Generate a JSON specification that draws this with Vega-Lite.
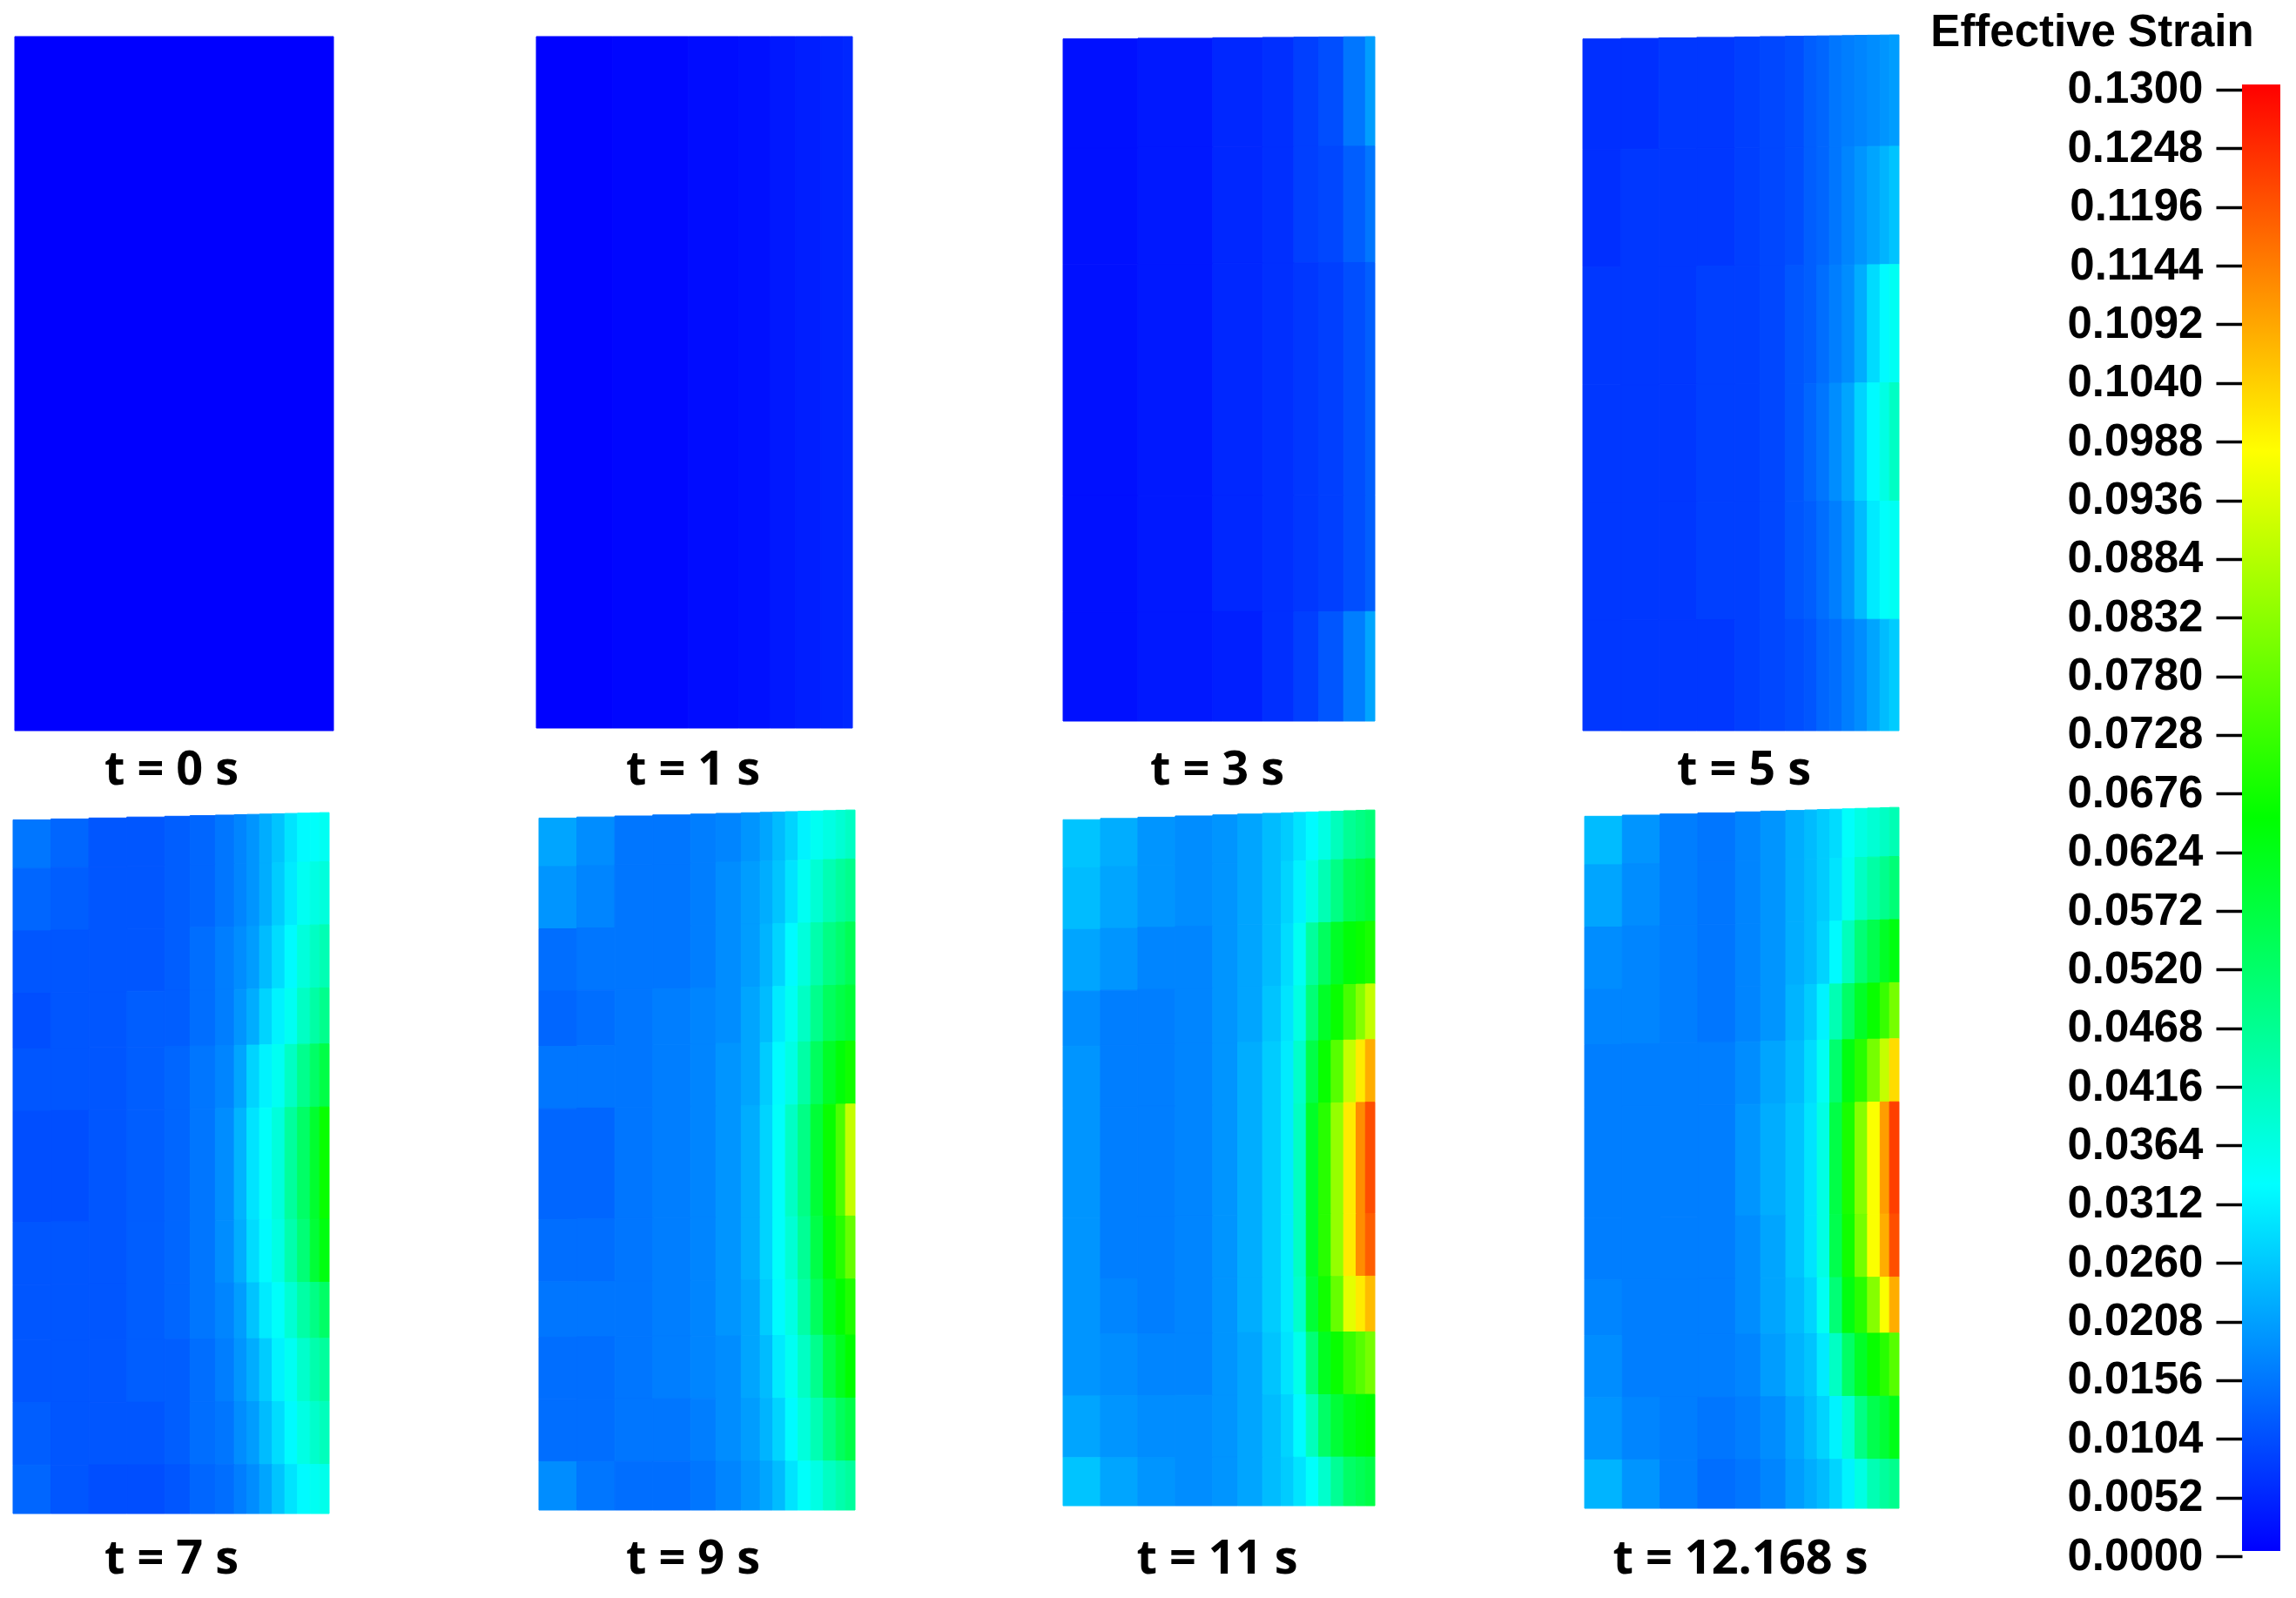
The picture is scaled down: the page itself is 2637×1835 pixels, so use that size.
{"$schema":"https://vega.github.io/schema/vega-lite/v6.json","background":"white","padding":0,"spacing":17,"config":{"view":{"stroke":null}},
"datasets":{
"panels":[{"p":0,"l":17,"r":383,"tl":42,"tr":42,"b":839,"lx":197,"ly":885,"lab":"t = 0 s"},{"p":1,"l":16,"r":379,"tl":42,"tr":42,"b":836,"lx":196,"ly":885,"lab":"t = 1 s"},{"p":3,"l":21,"r":379,"tl":45,"tr":42,"b":828,"lx":198,"ly":885,"lab":"t = 3 s"},{"p":5,"l":18,"r":381,"tl":45,"tr":40,"b":839,"lx":203,"ly":885,"lab":"t = 5 s"},{"p":7,"l":15,"r":378,"tl":52,"tr":43,"b":848,"lx":197,"ly":901,"lab":"t = 7 s"},{"p":9,"l":19,"r":382,"tl":50,"tr":40,"b":844,"lx":196,"ly":901,"lab":"t = 9 s"},{"p":11,"l":21,"r":379,"tl":52,"tr":40,"b":839,"lx":198,"ly":901,"lab":"t = 11 s"},{"p":12,"l":20,"r":381,"tl":48,"tr":37,"b":842,"lx":199,"ly":901,"lab":"t = 12.168 s"}],
"cols":[{"c":0,"xa":0,"xb":0.12},{"c":1,"xa":0.12,"xb":0.24},{"c":2,"xa":0.24,"xb":0.36},{"c":3,"xa":0.36,"xb":0.48},{"c":4,"xa":0.48,"xb":0.56},{"c":5,"xa":0.56,"xb":0.64},{"c":6,"xa":0.64,"xb":0.7},{"c":7,"xa":0.7,"xb":0.74},{"c":8,"xa":0.74,"xb":0.78},{"c":9,"xa":0.78,"xb":0.82},{"c":10,"xa":0.82,"xb":0.86},{"c":11,"xa":0.86,"xb":0.9},{"c":12,"xa":0.9,"xb":0.94},{"c":13,"xa":0.94,"xb":0.97},{"c":14,"xa":0.97,"xb":1},{"c":15,"xa":0,"xb":0.24},{"c":16,"xa":0.24,"xb":0.48},{"c":17,"xa":0.48,"xb":0.64},{"c":18,"xa":0.64,"xb":0.74},{"c":19,"xa":0.74,"xb":0.82},{"c":20,"xa":0.82,"xb":0.9},{"c":21,"xa":0.9,"xb":0.97},{"c":22,"xa":0,"xb":1}],
"bands":[{"r":0,"fa":0,"fb":0.07},{"r":1,"fa":0.07,"fb":0.16},{"r":2,"fa":0.16,"fb":0.25},{"r":3,"fa":0.25,"fb":0.33},{"r":4,"fa":0.33,"fb":0.42},{"r":5,"fa":0.42,"fb":0.58},{"r":6,"fa":0.58,"fb":0.67},{"r":7,"fa":0.67,"fb":0.75},{"r":8,"fa":0.75,"fb":0.84},{"r":9,"fa":0.84,"fb":0.93},{"r":10,"fa":0.93,"fb":1},{"r":11,"fa":0,"fb":0.16},{"r":12,"fa":0.16,"fb":0.33},{"r":13,"fa":0.33,"fb":0.5},{"r":14,"fa":0.5,"fb":0.67},{"r":15,"fa":0.67,"fb":0.84},{"r":16,"fa":0.84,"fb":1},{"r":17,"fa":0.33,"fb":0.67},{"r":18,"fa":0,"fb":1}],
"cells":[
{"p":0,"c":22,"r":18,"v":0},
{"p":1,"c":15,"r":18,"v":0.0003},{"p":1,"c":16,"r":18,"v":0.0008},{"p":1,"c":17,"r":18,"v":0.0015},{"p":1,"c":18,"r":18,"v":0.002},{"p":1,"c":19,"r":18,"v":0.003},{"p":1,"c":20,"r":18,"v":0.0038},{"p":1,"c":21,"r":18,"v":0.0045},{"p":1,"c":14,"r":18,"v":0.005},
{"p":3,"c":15,"r":11,"v":0.002},{"p":3,"c":16,"r":11,"v":0.003},{"p":3,"c":17,"r":11,"v":0.005},{"p":3,"c":18,"r":11,"v":0.006},{"p":3,"c":19,"r":11,"v":0.008},{"p":3,"c":20,"r":11,"v":0.01},{"p":3,"c":21,"r":11,"v":0.015},{"p":3,"c":14,"r":11,"v":0.02},
{"p":3,"c":15,"r":12,"v":0.002},{"p":3,"c":16,"r":12,"v":0.003},{"p":3,"c":17,"r":12,"v":0.005},{"p":3,"c":18,"r":12,"v":0.006},{"p":3,"c":19,"r":12,"v":0.008},{"p":3,"c":20,"r":12,"v":0.009},{"p":3,"c":21,"r":12,"v":0.012},{"p":3,"c":14,"r":12,"v":0.015},
{"p":3,"c":15,"r":17,"v":0.002},{"p":3,"c":16,"r":17,"v":0.003},{"p":3,"c":17,"r":17,"v":0.005},{"p":3,"c":18,"r":17,"v":0.006},{"p":3,"c":19,"r":17,"v":0.007},{"p":3,"c":20,"r":17,"v":0.008},{"p":3,"c":21,"r":17,"v":0.01},{"p":3,"c":14,"r":17,"v":0.012},
{"p":3,"c":15,"r":15,"v":0.002},{"p":3,"c":16,"r":15,"v":0.003},{"p":3,"c":17,"r":15,"v":0.005},{"p":3,"c":18,"r":15,"v":0.006},{"p":3,"c":19,"r":15,"v":0.007},{"p":3,"c":20,"r":15,"v":0.008},{"p":3,"c":21,"r":15,"v":0.01},{"p":3,"c":14,"r":15,"v":0.012},
{"p":3,"c":15,"r":16,"v":0.002},{"p":3,"c":16,"r":16,"v":0.003},{"p":3,"c":17,"r":16,"v":0.004},{"p":3,"c":18,"r":16,"v":0.006},{"p":3,"c":19,"r":16,"v":0.008},{"p":3,"c":20,"r":16,"v":0.011},{"p":3,"c":21,"r":16,"v":0.016},{"p":3,"c":14,"r":16,"v":0.021},
{"p":5,"c":0,"r":11,"v":0.006},{"p":5,"c":1,"r":11,"v":0.006},{"p":5,"c":2,"r":11,"v":0.007},{"p":5,"c":3,"r":11,"v":0.007},{"p":5,"c":4,"r":11,"v":0.008},{"p":5,"c":5,"r":11,"v":0.009},{"p":5,"c":6,"r":11,"v":0.01},{"p":5,"c":7,"r":11,"v":0.012},{"p":5,"c":8,"r":11,"v":0.013},{"p":5,"c":9,"r":11,"v":0.015},{"p":5,"c":10,"r":11,"v":0.016},{"p":5,"c":11,"r":11,"v":0.017},{"p":5,"c":12,"r":11,"v":0.018},{"p":5,"c":13,"r":11,"v":0.019},{"p":5,"c":14,"r":11,"v":0.02},
{"p":5,"c":0,"r":12,"v":0.006},{"p":5,"c":1,"r":12,"v":0.007},{"p":5,"c":2,"r":12,"v":0.007},{"p":5,"c":3,"r":12,"v":0.007},{"p":5,"c":4,"r":12,"v":0.008},{"p":5,"c":5,"r":12,"v":0.009},{"p":5,"c":6,"r":12,"v":0.01},{"p":5,"c":7,"r":12,"v":0.012},{"p":5,"c":8,"r":12,"v":0.013},{"p":5,"c":9,"r":12,"v":0.015},{"p":5,"c":10,"r":12,"v":0.017},{"p":5,"c":11,"r":12,"v":0.019},{"p":5,"c":12,"r":12,"v":0.021},{"p":5,"c":13,"r":12,"v":0.023},{"p":5,"c":14,"r":12,"v":0.025},
{"p":5,"c":0,"r":13,"v":0.007},{"p":5,"c":1,"r":13,"v":0.007},{"p":5,"c":2,"r":13,"v":0.007},{"p":5,"c":3,"r":13,"v":0.008},{"p":5,"c":4,"r":13,"v":0.008},{"p":5,"c":5,"r":13,"v":0.009},{"p":5,"c":6,"r":13,"v":0.011},{"p":5,"c":7,"r":13,"v":0.012},{"p":5,"c":8,"r":13,"v":0.014},{"p":5,"c":9,"r":13,"v":0.016},{"p":5,"c":10,"r":13,"v":0.018},{"p":5,"c":11,"r":13,"v":0.022},{"p":5,"c":12,"r":13,"v":0.028},{"p":5,"c":13,"r":13,"v":0.032},{"p":5,"c":14,"r":13,"v":0.034},
{"p":5,"c":0,"r":14,"v":0.007},{"p":5,"c":1,"r":14,"v":0.007},{"p":5,"c":2,"r":14,"v":0.007},{"p":5,"c":3,"r":14,"v":0.008},{"p":5,"c":4,"r":14,"v":0.008},{"p":5,"c":5,"r":14,"v":0.009},{"p":5,"c":6,"r":14,"v":0.011},{"p":5,"c":7,"r":14,"v":0.013},{"p":5,"c":8,"r":14,"v":0.015},{"p":5,"c":9,"r":14,"v":0.018},{"p":5,"c":10,"r":14,"v":0.021},{"p":5,"c":11,"r":14,"v":0.027},{"p":5,"c":12,"r":14,"v":0.032},{"p":5,"c":13,"r":14,"v":0.036},{"p":5,"c":14,"r":14,"v":0.04},
{"p":5,"c":0,"r":15,"v":0.007},{"p":5,"c":1,"r":15,"v":0.007},{"p":5,"c":2,"r":15,"v":0.007},{"p":5,"c":3,"r":15,"v":0.008},{"p":5,"c":4,"r":15,"v":0.008},{"p":5,"c":5,"r":15,"v":0.009},{"p":5,"c":6,"r":15,"v":0.011},{"p":5,"c":7,"r":15,"v":0.012},{"p":5,"c":8,"r":15,"v":0.014},{"p":5,"c":9,"r":15,"v":0.016},{"p":5,"c":10,"r":15,"v":0.019},{"p":5,"c":11,"r":15,"v":0.024},{"p":5,"c":12,"r":15,"v":0.03},{"p":5,"c":13,"r":15,"v":0.033},{"p":5,"c":14,"r":15,"v":0.034},
{"p":5,"c":0,"r":16,"v":0.007},{"p":5,"c":1,"r":16,"v":0.007},{"p":5,"c":2,"r":16,"v":0.007},{"p":5,"c":3,"r":16,"v":0.007},{"p":5,"c":4,"r":16,"v":0.008},{"p":5,"c":5,"r":16,"v":0.009},{"p":5,"c":6,"r":16,"v":0.01},{"p":5,"c":7,"r":16,"v":0.011},{"p":5,"c":8,"r":16,"v":0.013},{"p":5,"c":9,"r":16,"v":0.014},{"p":5,"c":10,"r":16,"v":0.016},{"p":5,"c":11,"r":16,"v":0.018},{"p":5,"c":12,"r":16,"v":0.021},{"p":5,"c":13,"r":16,"v":0.024},{"p":5,"c":14,"r":16,"v":0.026},
{"p":7,"c":0,"r":0,"v":0.015},{"p":7,"c":1,"r":0,"v":0.013},{"p":7,"c":2,"r":0,"v":0.011},{"p":7,"c":3,"r":0,"v":0.011},{"p":7,"c":4,"r":0,"v":0.012},{"p":7,"c":5,"r":0,"v":0.013},{"p":7,"c":6,"r":0,"v":0.015},{"p":7,"c":7,"r":0,"v":0.017},{"p":7,"c":8,"r":0,"v":0.019},{"p":7,"c":9,"r":0,"v":0.022},{"p":7,"c":10,"r":0,"v":0.025},{"p":7,"c":11,"r":0,"v":0.029},{"p":7,"c":12,"r":0,"v":0.032},{"p":7,"c":13,"r":0,"v":0.033},{"p":7,"c":14,"r":0,"v":0.034},
{"p":7,"c":0,"r":1,"v":0.013},{"p":7,"c":1,"r":1,"v":0.012},{"p":7,"c":2,"r":1,"v":0.011},{"p":7,"c":3,"r":1,"v":0.011},{"p":7,"c":4,"r":1,"v":0.012},{"p":7,"c":5,"r":1,"v":0.013},{"p":7,"c":6,"r":1,"v":0.015},{"p":7,"c":7,"r":1,"v":0.017},{"p":7,"c":8,"r":1,"v":0.019},{"p":7,"c":9,"r":1,"v":0.022},{"p":7,"c":10,"r":1,"v":0.026},{"p":7,"c":11,"r":1,"v":0.03},{"p":7,"c":12,"r":1,"v":0.034},{"p":7,"c":13,"r":1,"v":0.036},{"p":7,"c":14,"r":1,"v":0.037},
{"p":7,"c":0,"r":2,"v":0.011},{"p":7,"c":1,"r":2,"v":0.011},{"p":7,"c":2,"r":2,"v":0.011},{"p":7,"c":3,"r":2,"v":0.011},{"p":7,"c":4,"r":2,"v":0.012},{"p":7,"c":5,"r":2,"v":0.014},{"p":7,"c":6,"r":2,"v":0.016},{"p":7,"c":7,"r":2,"v":0.018},{"p":7,"c":8,"r":2,"v":0.02},{"p":7,"c":9,"r":2,"v":0.024},{"p":7,"c":10,"r":2,"v":0.028},{"p":7,"c":11,"r":2,"v":0.032},{"p":7,"c":12,"r":2,"v":0.037},{"p":7,"c":13,"r":2,"v":0.04},{"p":7,"c":14,"r":2,"v":0.042},
{"p":7,"c":0,"r":3,"v":0.01},{"p":7,"c":1,"r":3,"v":0.011},{"p":7,"c":2,"r":3,"v":0.011},{"p":7,"c":3,"r":3,"v":0.012},{"p":7,"c":4,"r":3,"v":0.012},{"p":7,"c":5,"r":3,"v":0.014},{"p":7,"c":6,"r":3,"v":0.016},{"p":7,"c":7,"r":3,"v":0.019},{"p":7,"c":8,"r":3,"v":0.022},{"p":7,"c":9,"r":3,"v":0.027},{"p":7,"c":10,"r":3,"v":0.031},{"p":7,"c":11,"r":3,"v":0.034},{"p":7,"c":12,"r":3,"v":0.04},{"p":7,"c":13,"r":3,"v":0.044},{"p":7,"c":14,"r":3,"v":0.047},
{"p":7,"c":0,"r":4,"v":0.011},{"p":7,"c":1,"r":4,"v":0.011},{"p":7,"c":2,"r":4,"v":0.011},{"p":7,"c":3,"r":4,"v":0.012},{"p":7,"c":4,"r":4,"v":0.013},{"p":7,"c":5,"r":4,"v":0.015},{"p":7,"c":6,"r":4,"v":0.017},{"p":7,"c":7,"r":4,"v":0.021},{"p":7,"c":8,"r":4,"v":0.027},{"p":7,"c":9,"r":4,"v":0.031},{"p":7,"c":10,"r":4,"v":0.034},{"p":7,"c":11,"r":4,"v":0.04},{"p":7,"c":12,"r":4,"v":0.047},{"p":7,"c":13,"r":4,"v":0.052},{"p":7,"c":14,"r":4,"v":0.056},
{"p":7,"c":0,"r":5,"v":0.01},{"p":7,"c":1,"r":5,"v":0.01},{"p":7,"c":2,"r":5,"v":0.011},{"p":7,"c":3,"r":5,"v":0.012},{"p":7,"c":4,"r":5,"v":0.013},{"p":7,"c":5,"r":5,"v":0.015},{"p":7,"c":6,"r":5,"v":0.018},{"p":7,"c":7,"r":5,"v":0.023},{"p":7,"c":8,"r":5,"v":0.029},{"p":7,"c":9,"r":5,"v":0.033},{"p":7,"c":10,"r":5,"v":0.037},{"p":7,"c":11,"r":5,"v":0.045},{"p":7,"c":12,"r":5,"v":0.052},{"p":7,"c":13,"r":5,"v":0.059},{"p":7,"c":14,"r":5,"v":0.066},
{"p":7,"c":0,"r":6,"v":0.011},{"p":7,"c":1,"r":6,"v":0.011},{"p":7,"c":2,"r":6,"v":0.011},{"p":7,"c":3,"r":6,"v":0.012},{"p":7,"c":4,"r":6,"v":0.013},{"p":7,"c":5,"r":6,"v":0.015},{"p":7,"c":6,"r":6,"v":0.018},{"p":7,"c":7,"r":6,"v":0.022},{"p":7,"c":8,"r":6,"v":0.028},{"p":7,"c":9,"r":6,"v":0.032},{"p":7,"c":10,"r":6,"v":0.036},{"p":7,"c":11,"r":6,"v":0.043},{"p":7,"c":12,"r":6,"v":0.05},{"p":7,"c":13,"r":6,"v":0.058},{"p":7,"c":14,"r":6,"v":0.063},
{"p":7,"c":0,"r":7,"v":0.011},{"p":7,"c":1,"r":7,"v":0.011},{"p":7,"c":2,"r":7,"v":0.011},{"p":7,"c":3,"r":7,"v":0.012},{"p":7,"c":4,"r":7,"v":0.013},{"p":7,"c":5,"r":7,"v":0.015},{"p":7,"c":6,"r":7,"v":0.017},{"p":7,"c":7,"r":7,"v":0.02},{"p":7,"c":8,"r":7,"v":0.025},{"p":7,"c":9,"r":7,"v":0.03},{"p":7,"c":10,"r":7,"v":0.033},{"p":7,"c":11,"r":7,"v":0.038},{"p":7,"c":12,"r":7,"v":0.044},{"p":7,"c":13,"r":7,"v":0.048},{"p":7,"c":14,"r":7,"v":0.052},
{"p":7,"c":0,"r":8,"v":0.011},{"p":7,"c":1,"r":8,"v":0.011},{"p":7,"c":2,"r":8,"v":0.011},{"p":7,"c":3,"r":8,"v":0.012},{"p":7,"c":4,"r":8,"v":0.012},{"p":7,"c":5,"r":8,"v":0.014},{"p":7,"c":6,"r":8,"v":0.016},{"p":7,"c":7,"r":8,"v":0.019},{"p":7,"c":8,"r":8,"v":0.022},{"p":7,"c":9,"r":8,"v":0.026},{"p":7,"c":10,"r":8,"v":0.031},{"p":7,"c":11,"r":8,"v":0.034},{"p":7,"c":12,"r":8,"v":0.039},{"p":7,"c":13,"r":8,"v":0.043},{"p":7,"c":14,"r":8,"v":0.045},
{"p":7,"c":0,"r":9,"v":0.012},{"p":7,"c":1,"r":9,"v":0.011},{"p":7,"c":2,"r":9,"v":0.011},{"p":7,"c":3,"r":9,"v":0.011},{"p":7,"c":4,"r":9,"v":0.012},{"p":7,"c":5,"r":9,"v":0.014},{"p":7,"c":6,"r":9,"v":0.015},{"p":7,"c":7,"r":9,"v":0.018},{"p":7,"c":8,"r":9,"v":0.02},{"p":7,"c":9,"r":9,"v":0.024},{"p":7,"c":10,"r":9,"v":0.028},{"p":7,"c":11,"r":9,"v":0.032},{"p":7,"c":12,"r":9,"v":0.036},{"p":7,"c":13,"r":9,"v":0.039},{"p":7,"c":14,"r":9,"v":0.041},
{"p":7,"c":0,"r":10,"v":0.013},{"p":7,"c":1,"r":10,"v":0.011},{"p":7,"c":2,"r":10,"v":0.01},{"p":7,"c":3,"r":10,"v":0.01},{"p":7,"c":4,"r":10,"v":0.011},{"p":7,"c":5,"r":10,"v":0.013},{"p":7,"c":6,"r":10,"v":0.014},{"p":7,"c":7,"r":10,"v":0.016},{"p":7,"c":8,"r":10,"v":0.018},{"p":7,"c":9,"r":10,"v":0.021},{"p":7,"c":10,"r":10,"v":0.025},{"p":7,"c":11,"r":10,"v":0.029},{"p":7,"c":12,"r":10,"v":0.032},{"p":7,"c":13,"r":10,"v":0.034},{"p":7,"c":14,"r":10,"v":0.035},
{"p":9,"c":0,"r":0,"v":0.021},{"p":9,"c":1,"r":0,"v":0.018},{"p":9,"c":2,"r":0,"v":0.015},{"p":9,"c":3,"r":0,"v":0.015},{"p":9,"c":4,"r":0,"v":0.016},{"p":9,"c":5,"r":0,"v":0.017},{"p":9,"c":6,"r":0,"v":0.019},{"p":9,"c":7,"r":0,"v":0.021},{"p":9,"c":8,"r":0,"v":0.024},{"p":9,"c":9,"r":0,"v":0.027},{"p":9,"c":10,"r":0,"v":0.031},{"p":9,"c":11,"r":0,"v":0.034},{"p":9,"c":12,"r":0,"v":0.036},{"p":9,"c":13,"r":0,"v":0.038},{"p":9,"c":14,"r":0,"v":0.04},
{"p":9,"c":0,"r":1,"v":0.019},{"p":9,"c":1,"r":1,"v":0.017},{"p":9,"c":2,"r":1,"v":0.015},{"p":9,"c":3,"r":1,"v":0.015},{"p":9,"c":4,"r":1,"v":0.016},{"p":9,"c":5,"r":1,"v":0.018},{"p":9,"c":6,"r":1,"v":0.02},{"p":9,"c":7,"r":1,"v":0.022},{"p":9,"c":8,"r":1,"v":0.025},{"p":9,"c":9,"r":1,"v":0.029},{"p":9,"c":10,"r":1,"v":0.034},{"p":9,"c":11,"r":1,"v":0.038},{"p":9,"c":12,"r":1,"v":0.042},{"p":9,"c":13,"r":1,"v":0.045},{"p":9,"c":14,"r":1,"v":0.047},
{"p":9,"c":0,"r":2,"v":0.014},{"p":9,"c":1,"r":2,"v":0.015},{"p":9,"c":2,"r":2,"v":0.015},{"p":9,"c":3,"r":2,"v":0.015},{"p":9,"c":4,"r":2,"v":0.016},{"p":9,"c":5,"r":2,"v":0.018},{"p":9,"c":6,"r":2,"v":0.02},{"p":9,"c":7,"r":2,"v":0.023},{"p":9,"c":8,"r":2,"v":0.027},{"p":9,"c":9,"r":2,"v":0.032},{"p":9,"c":10,"r":2,"v":0.037},{"p":9,"c":11,"r":2,"v":0.043},{"p":9,"c":12,"r":2,"v":0.048},{"p":9,"c":13,"r":2,"v":0.051},{"p":9,"c":14,"r":2,"v":0.054},
{"p":9,"c":0,"r":3,"v":0.013},{"p":9,"c":1,"r":3,"v":0.014},{"p":9,"c":2,"r":3,"v":0.015},{"p":9,"c":3,"r":3,"v":0.016},{"p":9,"c":4,"r":3,"v":0.017},{"p":9,"c":5,"r":3,"v":0.018},{"p":9,"c":6,"r":3,"v":0.021},{"p":9,"c":7,"r":3,"v":0.024},{"p":9,"c":8,"r":3,"v":0.03},{"p":9,"c":9,"r":3,"v":0.034},{"p":9,"c":10,"r":3,"v":0.04},{"p":9,"c":11,"r":3,"v":0.047},{"p":9,"c":12,"r":3,"v":0.053},{"p":9,"c":13,"r":3,"v":0.056},{"p":9,"c":14,"r":3,"v":0.058},
{"p":9,"c":0,"r":4,"v":0.015},{"p":9,"c":1,"r":4,"v":0.015},{"p":9,"c":2,"r":4,"v":0.015},{"p":9,"c":3,"r":4,"v":0.016},{"p":9,"c":4,"r":4,"v":0.017},{"p":9,"c":5,"r":4,"v":0.019},{"p":9,"c":6,"r":4,"v":0.021},{"p":9,"c":7,"r":4,"v":0.026},{"p":9,"c":8,"r":4,"v":0.032},{"p":9,"c":9,"r":4,"v":0.036},{"p":9,"c":10,"r":4,"v":0.044},{"p":9,"c":11,"r":4,"v":0.053},{"p":9,"c":12,"r":4,"v":0.06},{"p":9,"c":13,"r":4,"v":0.064},{"p":9,"c":14,"r":4,"v":0.067},
{"p":9,"c":0,"r":5,"v":0.013},{"p":9,"c":1,"r":5,"v":0.013},{"p":9,"c":2,"r":5,"v":0.015},{"p":9,"c":3,"r":5,"v":0.016},{"p":9,"c":4,"r":5,"v":0.017},{"p":9,"c":5,"r":5,"v":0.019},{"p":9,"c":6,"r":5,"v":0.022},{"p":9,"c":7,"r":5,"v":0.027},{"p":9,"c":8,"r":5,"v":0.033},{"p":9,"c":9,"r":5,"v":0.04},{"p":9,"c":10,"r":5,"v":0.048},{"p":9,"c":11,"r":5,"v":0.058},{"p":9,"c":12,"r":5,"v":0.066},{"p":9,"c":13,"r":5,"v":0.075},{"p":9,"c":14,"r":5,"v":0.09},
{"p":9,"c":0,"r":6,"v":0.014},{"p":9,"c":1,"r":6,"v":0.014},{"p":9,"c":2,"r":6,"v":0.015},{"p":9,"c":3,"r":6,"v":0.016},{"p":9,"c":4,"r":6,"v":0.017},{"p":9,"c":5,"r":6,"v":0.019},{"p":9,"c":6,"r":6,"v":0.022},{"p":9,"c":7,"r":6,"v":0.027},{"p":9,"c":8,"r":6,"v":0.033},{"p":9,"c":9,"r":6,"v":0.038},{"p":9,"c":10,"r":6,"v":0.046},{"p":9,"c":11,"r":6,"v":0.056},{"p":9,"c":12,"r":6,"v":0.064},{"p":9,"c":13,"r":6,"v":0.07},{"p":9,"c":14,"r":6,"v":0.078},
{"p":9,"c":0,"r":7,"v":0.015},{"p":9,"c":1,"r":7,"v":0.015},{"p":9,"c":2,"r":7,"v":0.015},{"p":9,"c":3,"r":7,"v":0.016},{"p":9,"c":4,"r":7,"v":0.017},{"p":9,"c":5,"r":7,"v":0.019},{"p":9,"c":6,"r":7,"v":0.021},{"p":9,"c":7,"r":7,"v":0.026},{"p":9,"c":8,"r":7,"v":0.032},{"p":9,"c":9,"r":7,"v":0.036},{"p":9,"c":10,"r":7,"v":0.044},{"p":9,"c":11,"r":7,"v":0.053},{"p":9,"c":12,"r":7,"v":0.061},{"p":9,"c":13,"r":7,"v":0.065},{"p":9,"c":14,"r":7,"v":0.069},
{"p":9,"c":0,"r":8,"v":0.014},{"p":9,"c":1,"r":8,"v":0.014},{"p":9,"c":2,"r":8,"v":0.015},{"p":9,"c":3,"r":8,"v":0.016},{"p":9,"c":4,"r":8,"v":0.017},{"p":9,"c":5,"r":8,"v":0.018},{"p":9,"c":6,"r":8,"v":0.021},{"p":9,"c":7,"r":8,"v":0.024},{"p":9,"c":8,"r":8,"v":0.03},{"p":9,"c":9,"r":8,"v":0.034},{"p":9,"c":10,"r":8,"v":0.04},{"p":9,"c":11,"r":8,"v":0.047},{"p":9,"c":12,"r":8,"v":0.056},{"p":9,"c":13,"r":8,"v":0.061},{"p":9,"c":14,"r":8,"v":0.065},
{"p":9,"c":0,"r":9,"v":0.014},{"p":9,"c":1,"r":9,"v":0.014},{"p":9,"c":2,"r":9,"v":0.015},{"p":9,"c":3,"r":9,"v":0.015},{"p":9,"c":4,"r":9,"v":0.016},{"p":9,"c":5,"r":9,"v":0.018},{"p":9,"c":6,"r":9,"v":0.02},{"p":9,"c":7,"r":9,"v":0.023},{"p":9,"c":8,"r":9,"v":0.027},{"p":9,"c":9,"r":9,"v":0.032},{"p":9,"c":10,"r":9,"v":0.037},{"p":9,"c":11,"r":9,"v":0.042},{"p":9,"c":12,"r":9,"v":0.048},{"p":9,"c":13,"r":9,"v":0.053},{"p":9,"c":14,"r":9,"v":0.056},
{"p":9,"c":0,"r":10,"v":0.018},{"p":9,"c":1,"r":10,"v":0.015},{"p":9,"c":2,"r":10,"v":0.014},{"p":9,"c":3,"r":10,"v":0.014},{"p":9,"c":4,"r":10,"v":0.015},{"p":9,"c":5,"r":10,"v":0.017},{"p":9,"c":6,"r":10,"v":0.019},{"p":9,"c":7,"r":10,"v":0.021},{"p":9,"c":8,"r":10,"v":0.024},{"p":9,"c":9,"r":10,"v":0.029},{"p":9,"c":10,"r":10,"v":0.033},{"p":9,"c":11,"r":10,"v":0.036},{"p":9,"c":12,"r":10,"v":0.04},{"p":9,"c":13,"r":10,"v":0.043},{"p":9,"c":14,"r":10,"v":0.045},
{"p":11,"c":0,"r":0,"v":0.025},{"p":11,"c":1,"r":0,"v":0.022},{"p":11,"c":2,"r":0,"v":0.019},{"p":11,"c":3,"r":0,"v":0.018},{"p":11,"c":4,"r":0,"v":0.019},{"p":11,"c":5,"r":0,"v":0.021},{"p":11,"c":6,"r":0,"v":0.024},{"p":11,"c":7,"r":0,"v":0.026},{"p":11,"c":8,"r":0,"v":0.029},{"p":11,"c":9,"r":0,"v":0.032},{"p":11,"c":10,"r":0,"v":0.036},{"p":11,"c":11,"r":0,"v":0.041},{"p":11,"c":12,"r":0,"v":0.046},{"p":11,"c":13,"r":0,"v":0.048},{"p":11,"c":14,"r":0,"v":0.05},
{"p":11,"c":0,"r":1,"v":0.024},{"p":11,"c":1,"r":1,"v":0.021},{"p":11,"c":2,"r":1,"v":0.019},{"p":11,"c":3,"r":1,"v":0.018},{"p":11,"c":4,"r":1,"v":0.019},{"p":11,"c":5,"r":1,"v":0.021},{"p":11,"c":6,"r":1,"v":0.024},{"p":11,"c":7,"r":1,"v":0.027},{"p":11,"c":8,"r":1,"v":0.031},{"p":11,"c":9,"r":1,"v":0.036},{"p":11,"c":10,"r":1,"v":0.042},{"p":11,"c":11,"r":1,"v":0.048},{"p":11,"c":12,"r":1,"v":0.054},{"p":11,"c":13,"r":1,"v":0.056},{"p":11,"c":14,"r":1,"v":0.058},
{"p":11,"c":0,"r":2,"v":0.021},{"p":11,"c":1,"r":2,"v":0.019},{"p":11,"c":2,"r":2,"v":0.017},{"p":11,"c":3,"r":2,"v":0.017},{"p":11,"c":4,"r":2,"v":0.019},{"p":11,"c":5,"r":2,"v":0.021},{"p":11,"c":6,"r":2,"v":0.024},{"p":11,"c":7,"r":2,"v":0.028},{"p":11,"c":8,"r":2,"v":0.034},{"p":11,"c":9,"r":2,"v":0.045},{"p":11,"c":10,"r":2,"v":0.053},{"p":11,"c":11,"r":2,"v":0.06},{"p":11,"c":12,"r":2,"v":0.064},{"p":11,"c":13,"r":2,"v":0.066},{"p":11,"c":14,"r":2,"v":0.068},
{"p":11,"c":0,"r":3,"v":0.018},{"p":11,"c":1,"r":3,"v":0.016},{"p":11,"c":2,"r":3,"v":0.016},{"p":11,"c":3,"r":3,"v":0.017},{"p":11,"c":4,"r":3,"v":0.019},{"p":11,"c":5,"r":3,"v":0.021},{"p":11,"c":6,"r":3,"v":0.025},{"p":11,"c":7,"r":3,"v":0.029},{"p":11,"c":8,"r":3,"v":0.036},{"p":11,"c":9,"r":3,"v":0.05},{"p":11,"c":10,"r":3,"v":0.06},{"p":11,"c":11,"r":3,"v":0.066},{"p":11,"c":12,"r":3,"v":0.074},{"p":11,"c":13,"r":3,"v":0.082},{"p":11,"c":14,"r":3,"v":0.09},
{"p":11,"c":0,"r":4,"v":0.019},{"p":11,"c":1,"r":4,"v":0.016},{"p":11,"c":2,"r":4,"v":0.016},{"p":11,"c":3,"r":4,"v":0.017},{"p":11,"c":4,"r":4,"v":0.019},{"p":11,"c":5,"r":4,"v":0.022},{"p":11,"c":6,"r":4,"v":0.026},{"p":11,"c":7,"r":4,"v":0.03},{"p":11,"c":8,"r":4,"v":0.039},{"p":11,"c":9,"r":4,"v":0.056},{"p":11,"c":10,"r":4,"v":0.066},{"p":11,"c":11,"r":4,"v":0.076},{"p":11,"c":12,"r":4,"v":0.09},{"p":11,"c":13,"r":4,"v":0.1},{"p":11,"c":14,"r":4,"v":0.108},
{"p":11,"c":0,"r":5,"v":0.019},{"p":11,"c":1,"r":5,"v":0.016},{"p":11,"c":2,"r":5,"v":0.016},{"p":11,"c":3,"r":5,"v":0.017},{"p":11,"c":4,"r":5,"v":0.019},{"p":11,"c":5,"r":5,"v":0.022},{"p":11,"c":6,"r":5,"v":0.026},{"p":11,"c":7,"r":5,"v":0.03},{"p":11,"c":8,"r":5,"v":0.04},{"p":11,"c":9,"r":5,"v":0.06},{"p":11,"c":10,"r":5,"v":0.07},{"p":11,"c":11,"r":5,"v":0.084},{"p":11,"c":12,"r":5,"v":0.1},{"p":11,"c":13,"r":5,"v":0.112},{"p":11,"c":14,"r":5,"v":0.12},
{"p":11,"c":0,"r":6,"v":0.019},{"p":11,"c":1,"r":6,"v":0.016},{"p":11,"c":2,"r":6,"v":0.016},{"p":11,"c":3,"r":6,"v":0.017},{"p":11,"c":4,"r":6,"v":0.019},{"p":11,"c":5,"r":6,"v":0.022},{"p":11,"c":6,"r":6,"v":0.026},{"p":11,"c":7,"r":6,"v":0.03},{"p":11,"c":8,"r":6,"v":0.04},{"p":11,"c":9,"r":6,"v":0.06},{"p":11,"c":10,"r":6,"v":0.07},{"p":11,"c":11,"r":6,"v":0.084},{"p":11,"c":12,"r":6,"v":0.1},{"p":11,"c":13,"r":6,"v":0.112},{"p":11,"c":14,"r":6,"v":0.118},
{"p":11,"c":0,"r":7,"v":0.019},{"p":11,"c":1,"r":7,"v":0.017},{"p":11,"c":2,"r":7,"v":0.016},{"p":11,"c":3,"r":7,"v":0.017},{"p":11,"c":4,"r":7,"v":0.019},{"p":11,"c":5,"r":7,"v":0.022},{"p":11,"c":6,"r":7,"v":0.026},{"p":11,"c":7,"r":7,"v":0.03},{"p":11,"c":8,"r":7,"v":0.039},{"p":11,"c":9,"r":7,"v":0.058},{"p":11,"c":10,"r":7,"v":0.067},{"p":11,"c":11,"r":7,"v":0.078},{"p":11,"c":12,"r":7,"v":0.094},{"p":11,"c":13,"r":7,"v":0.1},{"p":11,"c":14,"r":7,"v":0.106},
{"p":11,"c":0,"r":8,"v":0.019},{"p":11,"c":1,"r":8,"v":0.018},{"p":11,"c":2,"r":8,"v":0.017},{"p":11,"c":3,"r":8,"v":0.017},{"p":11,"c":4,"r":8,"v":0.019},{"p":11,"c":5,"r":8,"v":0.021},{"p":11,"c":6,"r":8,"v":0.025},{"p":11,"c":7,"r":8,"v":0.029},{"p":11,"c":8,"r":8,"v":0.035},{"p":11,"c":9,"r":8,"v":0.05},{"p":11,"c":10,"r":8,"v":0.061},{"p":11,"c":11,"r":8,"v":0.066},{"p":11,"c":12,"r":8,"v":0.072},{"p":11,"c":13,"r":8,"v":0.076},{"p":11,"c":14,"r":8,"v":0.08},
{"p":11,"c":0,"r":9,"v":0.021},{"p":11,"c":1,"r":9,"v":0.019},{"p":11,"c":2,"r":9,"v":0.018},{"p":11,"c":3,"r":9,"v":0.018},{"p":11,"c":4,"r":9,"v":0.019},{"p":11,"c":5,"r":9,"v":0.021},{"p":11,"c":6,"r":9,"v":0.024},{"p":11,"c":7,"r":9,"v":0.027},{"p":11,"c":8,"r":9,"v":0.032},{"p":11,"c":9,"r":9,"v":0.041},{"p":11,"c":10,"r":9,"v":0.052},{"p":11,"c":11,"r":9,"v":0.058},{"p":11,"c":12,"r":9,"v":0.062},{"p":11,"c":13,"r":9,"v":0.064},{"p":11,"c":14,"r":9,"v":0.065},
{"p":11,"c":0,"r":10,"v":0.025},{"p":11,"c":1,"r":10,"v":0.021},{"p":11,"c":2,"r":10,"v":0.019},{"p":11,"c":3,"r":10,"v":0.018},{"p":11,"c":4,"r":10,"v":0.019},{"p":11,"c":5,"r":10,"v":0.021},{"p":11,"c":6,"r":10,"v":0.024},{"p":11,"c":7,"r":10,"v":0.026},{"p":11,"c":8,"r":10,"v":0.029},{"p":11,"c":9,"r":10,"v":0.033},{"p":11,"c":10,"r":10,"v":0.039},{"p":11,"c":11,"r":10,"v":0.046},{"p":11,"c":12,"r":10,"v":0.052},{"p":11,"c":13,"r":10,"v":0.054},{"p":11,"c":14,"r":10,"v":0.056},
{"p":12,"c":0,"r":0,"v":0.024},{"p":12,"c":1,"r":0,"v":0.019},{"p":12,"c":2,"r":0,"v":0.016},{"p":12,"c":3,"r":0,"v":0.015},{"p":12,"c":4,"r":0,"v":0.017},{"p":12,"c":5,"r":0,"v":0.019},{"p":12,"c":6,"r":0,"v":0.022},{"p":12,"c":7,"r":0,"v":0.024},{"p":12,"c":8,"r":0,"v":0.026},{"p":12,"c":9,"r":0,"v":0.028},{"p":12,"c":10,"r":0,"v":0.033},{"p":12,"c":11,"r":0,"v":0.036},{"p":12,"c":12,"r":0,"v":0.038},{"p":12,"c":13,"r":0,"v":0.04},{"p":12,"c":14,"r":0,"v":0.042},
{"p":12,"c":0,"r":1,"v":0.021},{"p":12,"c":1,"r":1,"v":0.018},{"p":12,"c":2,"r":1,"v":0.016},{"p":12,"c":3,"r":1,"v":0.015},{"p":12,"c":4,"r":1,"v":0.017},{"p":12,"c":5,"r":1,"v":0.019},{"p":12,"c":6,"r":1,"v":0.022},{"p":12,"c":7,"r":1,"v":0.024},{"p":12,"c":8,"r":1,"v":0.026},{"p":12,"c":9,"r":1,"v":0.029},{"p":12,"c":10,"r":1,"v":0.034},{"p":12,"c":11,"r":1,"v":0.04},{"p":12,"c":12,"r":1,"v":0.044},{"p":12,"c":13,"r":1,"v":0.047},{"p":12,"c":14,"r":1,"v":0.05},
{"p":12,"c":0,"r":2,"v":0.018},{"p":12,"c":1,"r":2,"v":0.017},{"p":12,"c":2,"r":2,"v":0.016},{"p":12,"c":3,"r":2,"v":0.015},{"p":12,"c":4,"r":2,"v":0.017},{"p":12,"c":5,"r":2,"v":0.019},{"p":12,"c":6,"r":2,"v":0.022},{"p":12,"c":7,"r":2,"v":0.024},{"p":12,"c":8,"r":2,"v":0.027},{"p":12,"c":9,"r":2,"v":0.032},{"p":12,"c":10,"r":2,"v":0.041},{"p":12,"c":11,"r":2,"v":0.05},{"p":12,"c":12,"r":2,"v":0.055},{"p":12,"c":13,"r":2,"v":0.06},{"p":12,"c":14,"r":2,"v":0.063},
{"p":12,"c":0,"r":3,"v":0.017},{"p":12,"c":1,"r":3,"v":0.017},{"p":12,"c":2,"r":3,"v":0.016},{"p":12,"c":3,"r":3,"v":0.015},{"p":12,"c":4,"r":3,"v":0.017},{"p":12,"c":5,"r":3,"v":0.019},{"p":12,"c":6,"r":3,"v":0.023},{"p":12,"c":7,"r":3,"v":0.026},{"p":12,"c":8,"r":3,"v":0.031},{"p":12,"c":9,"r":3,"v":0.042},{"p":12,"c":10,"r":3,"v":0.052},{"p":12,"c":11,"r":3,"v":0.06},{"p":12,"c":12,"r":3,"v":0.066},{"p":12,"c":13,"r":3,"v":0.072},{"p":12,"c":14,"r":3,"v":0.08},
{"p":12,"c":0,"r":4,"v":0.016},{"p":12,"c":1,"r":4,"v":0.016},{"p":12,"c":2,"r":4,"v":0.016},{"p":12,"c":3,"r":4,"v":0.016},{"p":12,"c":4,"r":4,"v":0.018},{"p":12,"c":5,"r":4,"v":0.021},{"p":12,"c":6,"r":4,"v":0.024},{"p":12,"c":7,"r":4,"v":0.028},{"p":12,"c":8,"r":4,"v":0.034},{"p":12,"c":9,"r":4,"v":0.051},{"p":12,"c":10,"r":4,"v":0.063},{"p":12,"c":11,"r":4,"v":0.07},{"p":12,"c":12,"r":4,"v":0.08},{"p":12,"c":13,"r":4,"v":0.09},{"p":12,"c":14,"r":4,"v":0.102},
{"p":12,"c":0,"r":5,"v":0.016},{"p":12,"c":1,"r":5,"v":0.016},{"p":12,"c":2,"r":5,"v":0.016},{"p":12,"c":3,"r":5,"v":0.016},{"p":12,"c":4,"r":5,"v":0.019},{"p":12,"c":5,"r":5,"v":0.022},{"p":12,"c":6,"r":5,"v":0.025},{"p":12,"c":7,"r":5,"v":0.029},{"p":12,"c":8,"r":5,"v":0.036},{"p":12,"c":9,"r":5,"v":0.056},{"p":12,"c":10,"r":5,"v":0.068},{"p":12,"c":11,"r":5,"v":0.082},{"p":12,"c":12,"r":5,"v":0.097},{"p":12,"c":13,"r":5,"v":0.11},{"p":12,"c":14,"r":5,"v":0.122},
{"p":12,"c":0,"r":6,"v":0.016},{"p":12,"c":1,"r":6,"v":0.016},{"p":12,"c":2,"r":6,"v":0.016},{"p":12,"c":3,"r":6,"v":0.016},{"p":12,"c":4,"r":6,"v":0.018},{"p":12,"c":5,"r":6,"v":0.021},{"p":12,"c":6,"r":6,"v":0.025},{"p":12,"c":7,"r":6,"v":0.029},{"p":12,"c":8,"r":6,"v":0.036},{"p":12,"c":9,"r":6,"v":0.055},{"p":12,"c":10,"r":6,"v":0.067},{"p":12,"c":11,"r":6,"v":0.08},{"p":12,"c":12,"r":6,"v":0.097},{"p":12,"c":13,"r":6,"v":0.108},{"p":12,"c":14,"r":6,"v":0.12},
{"p":12,"c":0,"r":7,"v":0.017},{"p":12,"c":1,"r":7,"v":0.016},{"p":12,"c":2,"r":7,"v":0.016},{"p":12,"c":3,"r":7,"v":0.016},{"p":12,"c":4,"r":7,"v":0.018},{"p":12,"c":5,"r":7,"v":0.021},{"p":12,"c":6,"r":7,"v":0.024},{"p":12,"c":7,"r":7,"v":0.027},{"p":12,"c":8,"r":7,"v":0.034},{"p":12,"c":9,"r":7,"v":0.05},{"p":12,"c":10,"r":7,"v":0.063},{"p":12,"c":11,"r":7,"v":0.07},{"p":12,"c":12,"r":7,"v":0.082},{"p":12,"c":13,"r":7,"v":0.097},{"p":12,"c":14,"r":7,"v":0.108},
{"p":12,"c":0,"r":8,"v":0.018},{"p":12,"c":1,"r":8,"v":0.016},{"p":12,"c":2,"r":8,"v":0.016},{"p":12,"c":3,"r":8,"v":0.016},{"p":12,"c":4,"r":8,"v":0.017},{"p":12,"c":5,"r":8,"v":0.02},{"p":12,"c":6,"r":8,"v":0.023},{"p":12,"c":7,"r":8,"v":0.025},{"p":12,"c":8,"r":8,"v":0.03},{"p":12,"c":9,"r":8,"v":0.04},{"p":12,"c":10,"r":8,"v":0.052},{"p":12,"c":11,"r":8,"v":0.06},{"p":12,"c":12,"r":8,"v":0.066},{"p":12,"c":13,"r":8,"v":0.07},{"p":12,"c":14,"r":8,"v":0.076},
{"p":12,"c":0,"r":9,"v":0.019},{"p":12,"c":1,"r":9,"v":0.017},{"p":12,"c":2,"r":9,"v":0.016},{"p":12,"c":3,"r":9,"v":0.015},{"p":12,"c":4,"r":9,"v":0.016},{"p":12,"c":5,"r":9,"v":0.018},{"p":12,"c":6,"r":9,"v":0.021},{"p":12,"c":7,"r":9,"v":0.024},{"p":12,"c":8,"r":9,"v":0.027},{"p":12,"c":9,"r":9,"v":0.031},{"p":12,"c":10,"r":9,"v":0.038},{"p":12,"c":11,"r":9,"v":0.048},{"p":12,"c":12,"r":9,"v":0.055},{"p":12,"c":13,"r":9,"v":0.058},{"p":12,"c":14,"r":9,"v":0.062},
{"p":12,"c":0,"r":10,"v":0.023},{"p":12,"c":1,"r":10,"v":0.019},{"p":12,"c":2,"r":10,"v":0.016},{"p":12,"c":3,"r":10,"v":0.014},{"p":12,"c":4,"r":10,"v":0.015},{"p":12,"c":5,"r":10,"v":0.017},{"p":12,"c":6,"r":10,"v":0.02},{"p":12,"c":7,"r":10,"v":0.022},{"p":12,"c":8,"r":10,"v":0.024},{"p":12,"c":9,"r":10,"v":0.027},{"p":12,"c":10,"r":10,"v":0.031},{"p":12,"c":11,"r":10,"v":0.036},{"p":12,"c":12,"r":10,"v":0.042},{"p":12,"c":13,"r":10,"v":0.045},{"p":12,"c":14,"r":10,"v":0.047}
]},
"hconcat":[
{"data":{"name":"cells"},
"transform":[
{"lookup":"c","from":{"data":{"name":"cols"},"key":"c","fields":["xa","xb"]}},
{"lookup":"r","from":{"data":{"name":"bands"},"key":"r","fields":["fa","fb"]}},
{"lookup":"p","from":{"data":{"name":"panels"},"key":"p","fields":["l","r","tl","tr","b","lx","ly","lab"]},"as":["pl","pr","tl","tr","pb","lx","ly","lab"]},
{"calculate":"datum.pl+(datum.pr-datum.pl)*datum.xa","as":"x0"},
{"calculate":"datum.pl+(datum.pr-datum.pl)*datum.xb","as":"x1"},
{"calculate":"datum.tl+(datum.tr-datum.tl)*(datum.xa+datum.xb)/2","as":"top"},
{"calculate":"datum.top+(datum.pb-datum.top)*datum.fa","as":"y0"},
{"calculate":"datum.top+(datum.pb-datum.top)*datum.fb","as":"y1"}
],
"facet":{"field":"p","type":"ordinal","header":{"labelExpr":"''","labelFontSize":0,"labelPadding":0,"title":null},"title":null},
"columns":4,
"bounds":"flush",
"spacing":{"column":200,"row":0},
"spec":{"width":400,"height":890,"layer":[
{"mark":{"type":"rect","strokeWidth":1},"encoding":{
"x":{"field":"x0","type":"quantitative","scale":{"domain":[0,400],"nice":false},"axis":null},
"x2":{"field":"x1"},
"y":{"field":"y0","type":"quantitative","scale":{"domain":[0,890],"nice":false,"reverse":true},"axis":null},
"y2":{"field":"y1"},
"fill":{"field":"v","type":"quantitative","legend":null,"scale":{"interpolate":"rgb","domain":[0,0.0325,0.065,0.0975,0.13],"range":["#0000ff","#00ffff","#00ff00","#ffff00","#ff0000"]}},
"stroke":{"field":"v","type":"quantitative","legend":null,"scale":{"interpolate":"rgb","domain":[0,0.0325,0.065,0.0975,0.13],"range":["#0000ff","#00ffff","#00ff00","#ffff00","#ff0000"]}}
}},
{"transform":[{"aggregate":[{"op":"max","field":"lx","as":"lx"},{"op":"max","field":"ly","as":"ly"}],"groupby":["lab"]}],
"mark":{"type":"text","font":"Open Sans","fontWeight":"bold","fontSize":54,"color":"black","align":"center","baseline":"middle"},
"encoding":{"x":{"field":"lx","type":"quantitative"},"y":{"field":"ly","type":"quantitative"},"text":{"field":"lab"}}}
]}},
{"width":420,"height":1835,"layer":[
{"data":{"values":[{"a":358,"b":402,"lo":0.000463,"hi":0.130463}]},
"mark":{"type":"rect","fill":{"gradient":"linear","x1":0,"y1":1,"x2":0,"y2":0,"stops":[{"offset":0,"color":"#0000ff"},{"offset":0.25,"color":"#00ffff"},{"offset":0.5,"color":"#00ff00"},{"offset":0.75,"color":"#ffff00"},{"offset":1,"color":"#ff0000"}]}},
"encoding":{
"x":{"field":"a","type":"quantitative","scale":{"domain":[0,420],"nice":false},"axis":null},
"x2":{"field":"b"},
"y":{"field":"lo","type":"quantitative","scale":{"domain":[-0.003705,0.137951],"nice":false,"zero":false},"axis":{"title":null,"values":[0,0.0052,0.0104,0.0156,0.0208,0.026,0.0312,0.0364,0.0416,0.0468,0.052,0.0572,0.0624,0.0676,0.0728,0.078,0.0832,0.0884,0.0936,0.0988,0.104,0.1092,0.1144,0.1196,0.1248,0.13],"format":".4f","offset":-358,"domain":false,"grid":false,"tickSize":30,"tickWidth":3.5,"tickColor":"black","labelPadding":15,"labelFont":"Liberation Sans","labelFontWeight":"bold","labelFontSize":51,"labelColor":"black","labelBaseline":"middle","labelOverlap":false,"labelBound":false}},
"y2":{"field":"hi"}}},
{"data":{"values":[{"x":186,"y":0.135,"label":"Effective Strain"}]},
"mark":{"type":"text","font":"Liberation Sans","fontWeight":"bold","fontSize":51,"color":"black","align":"center","baseline":"middle"},
"encoding":{"x":{"field":"x","type":"quantitative"},"y":{"field":"y","type":"quantitative"},"text":{"field":"label"}}}
]}
]}
